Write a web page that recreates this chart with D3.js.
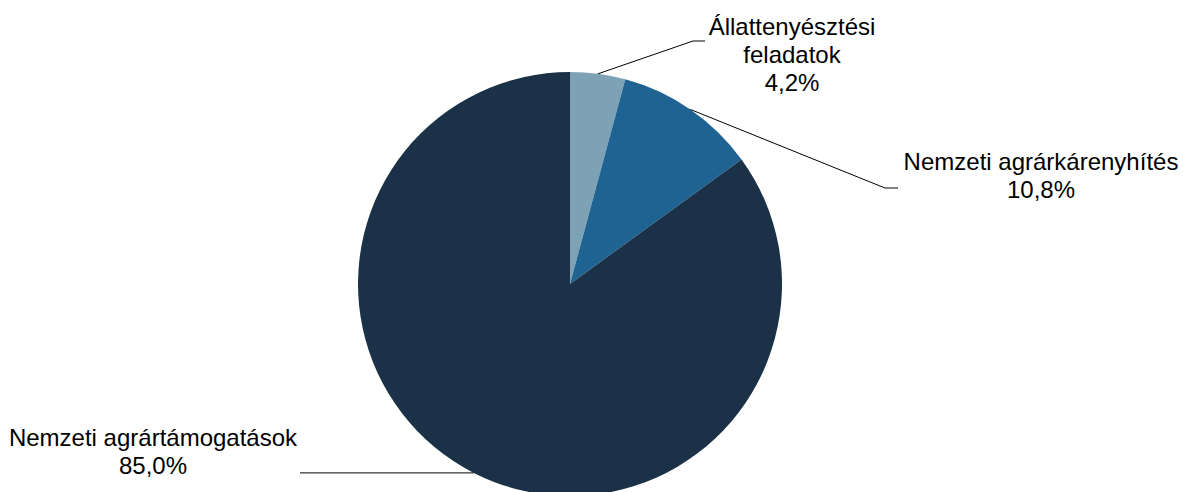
<!DOCTYPE html>
<html>
<head>
<meta charset="utf-8">
<script src="https://cdn.jsdelivr.net/npm/d3@7"></script>
<style>
  body { margin: 0; background: #fff; }
  .lbl { font-family: "Liberation Sans", Arial, sans-serif; font-size: 24px; fill: #000; }
</style>
</head>
<body>
<div id="chart"></div>
<script>
// chart data
const categories = ["Állattenyésztési feladatok", "Nemzeti agrárkárenyhítés", "Nemzeti agrártámogatások"];
const shares = [4.2, 10.8, 85.0];
const colors = ["#7da2b5", "#1e6391", "#1b3147"];

// label text lines per slice
const labelLines = [["Állattenyésztési", "feladatok"], ["Nemzeti agrárkárenyhítés"], ["Nemzeti agrártámogatások"]];

const width = 1183, height = 492;
const cx = 570, cy = 284, radius = 212;
const lineGap = 28;

// where each label sits (elbow, end of leader, text center / first baseline)
const layout = [
    { elbow: [693, 41], end: [705, 41], tx: 792, ty: 35 },
    { elbow: [885, 188], end: [898, 188], tx: 1041, ty: 170 },
    { elbow: null, end: [300, 473], tx: 153, ty: 446 }
];

const svg = d3.select("#chart").append("svg")
    .attr("width", width)
    .attr("height", height);

const g = svg.append("g")
    .attr("transform", "translate(" + cx + "," + cy + ")");

const pie = d3.pie().sort(null).value(function(d) { return d; });
const arcs = pie(shares);
const arc = d3.arc().innerRadius(0).outerRadius(radius);

g.selectAll("path.slice")
    .data(arcs)
    .enter()
    .append("path")
    .attr("class", "slice")
    .attr("fill", function(d, i) { return colors[i]; })
    .attr("d", arc);

// leader lines start at the outer edge, mid angle of the slice
arcs.forEach(function(a, i) {
    let mid = (a.startAngle + a.endAngle) / 2;
    let sx = cx + Math.sin(mid) * radius;
    let sy = cy - Math.cos(mid) * radius;
    let L = layout[i];
    let pts = [[sx, sy]];
    if (L.elbow) {
        pts.push(L.elbow);
        pts.push(L.end);
    } else {
        pts.push([L.end[0], sy]);
    }

    svg.append("path")
        .attr("fill", "none")
        .attr("stroke", "#000")
        .attr("stroke-width", 1)
        .attr("d", d3.line()(pts));

    let lines = labelLines[i].concat([d3.format(".1f")(shares[i]).replace(".", ",") + "%"]);
    let t = svg.append("text")
        .attr("class", "lbl")
        .attr("text-anchor", "middle");
    lines.forEach(function(s, j) {
        t.append("tspan")
            .attr("x", L.tx)
            .attr("y", L.ty + j * lineGap)
            .text(s);
    });
});
</script>
</body>
</html>
